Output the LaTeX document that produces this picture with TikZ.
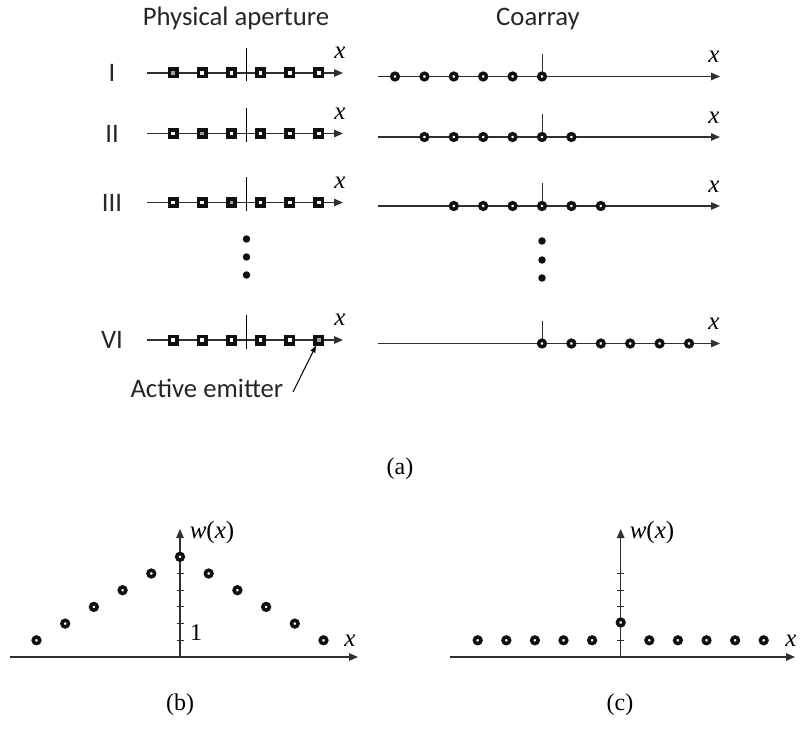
\documentclass[tikz,border=0pt]{standalone}
\usepackage{fontspec}
\setmainfont{Liberation Serif}[ItalicFont={Liberation Serif Italic}]
\setsansfont{Carlito}
\usetikzlibrary{arrows.meta, positioning, calc}

\definecolor{axisgray}{HTML}{303030}
\definecolor{markdark}{HTML}{101010}
\definecolor{activegray}{HTML}{A0A0A0}

\begin{document}
\begin{tikzpicture}[x=1pt, y=-1pt,
    axis/.style={draw=axisgray, line width=1.3pt, -{Triangle[length=9pt, width=7.5pt]}},
    tick/.style={draw=axisgray, line width=1pt},
    elem/.style={rectangle, draw=markdark, fill=white, line width=3.6pt, minimum size=7.4pt, inner sep=0pt},
    lag/.style={circle, draw=markdark, fill=white, line width=3.5pt, minimum size=6.6pt, inner sep=0pt},
    wdot/.style={circle, fill=markdark, minimum size=7.5pt, inner sep=0pt},
    lbl/.style={font=\sffamily\fontsize{26.7}{30}\selectfont, text=black!85},
    var/.style={font=\fontsize{25}{28}\selectfont},
    subcap/.style={font=\fontsize{24}{28}\selectfont}]

    \useasboundingbox (0,0) rectangle (800,735);

    % headers
    \node[lbl, anchor=base] (hphys) at (236,26) {Physical aperture};
    \node[lbl, anchor=base] (hco) at (538,26) {Coarray};

    % rows: number / label / y / active element / first lag
    \foreach \r/\lab/\y/\act/\lo in {1/I/73/1/-5, 2/II/133.5/2/-4, 3/III/202.5/3/-3, 6/VI/340/6/0} {
        \node[lbl] (lab\r) at (112,\y) {\lab};
        % physical aperture
        \coordinate (pa\r) at (147,\y);
        \coordinate (pb\r) at (343,\y);
        \draw[axis] (pa\r) -- (pb\r);
        \draw[tick, draw=black] (246.5,\y-25) -- (246.5,\y+8.5);
        \node[var] (px\r) at (340,\y-20) {\textit{x}};
        \foreach \k in {1,...,6} {
            \ifnum\k=\act \def\fc{activegray}\else\def\fc{white}\fi
            \node[elem, fill=\fc] (s\r-\k) at ({246+29.1*(\k-3.5)},\y) {};
        }
        % coarray
        \coordinate (ca\r) at (378,\y+3.5);
        \coordinate (cb\r) at (720,\y+3.5);
        \draw[axis] (ca\r) -- (cb\r);
        \draw[tick] (542,\y-19) -- (542,\y+3.5);
        \node[var] (cx\r) at (714,\y-16) {\textit{x}};
        \foreach \m in {0,...,5}
            \node[lag] (l\r-\m) at ({542+29.4*(\lo+\m)},\y+3.5) {};
    }

    % skipped rows
    \foreach \j/\yy in {1/239, 2/257, 3/275}
        \node[wdot] (pd\j) at (246.5,\yy) {};
    \foreach \j/\yy in {1/241, 2/260, 3/278}
        \node[wdot] (cd\j) at (542,\yy) {};

    % pointer to the active element
    \node[lbl, anchor=base west] (emit) at (127,397) {Active emitter};
    \coordinate (emittail) at (293,392);
    \draw[line width=1pt, -{Triangle[length=7pt, width=5pt]}] (emittail) -- (s6-6);

    \node[subcap] (capa) at (400,469) {(a)};

    % (b) weight function
    \coordinate (bx0) at (10,657);
    \coordinate (bx1) at (358,657);
    \coordinate (by0) at (180,657);
    \coordinate (by1) at (180,529);
    \draw[axis] (bx0) -- (bx1);
    \draw[axis] (by0) -- (by1);
    \foreach \j in {1,...,5}
        \draw[tick] (176.5,{657-16.7*\j}) -- (183.5,{657-16.7*\j});
    \foreach \k in {-5,...,5}
        \node[lag] (bb\k) at ({180+28.7*\k},{657-16.7*(6-abs(\k))}) {};
    \node[var] (bw) at (212,532) {\textit{w}(\textit{x})};
    \node[var] (bxl) at (350,641) {\textit{x}};
    \node[subcap] (bone) at (196,633) {1};
    \node[subcap] (capb) at (180,705) {(b)};

    % (c) weight function
    \coordinate (cx0) at (450,657);
    \coordinate (cx1) at (795,657);
    \coordinate (cy0) at (620.7,657);
    \coordinate (cy1) at (620.7,529);
    \draw[axis] (cx0) -- (cx1);
    \draw[axis] (cy0) -- (cy1);
    \foreach \j in {1,...,5}
        \draw[tick] (617.2,{657-16.7*\j}) -- (624.2,{657-16.7*\j});
    \foreach \k in {-5,...,-1,1,2,3,4,5}
        \node[lag] (cc\k) at ({620.7+28.6*\k},640.3) {};
    \node[lag] (cc0) at (620.7,622.5) {};
    \node[var] (cw) at (652,532) {\textit{w}(\textit{x})};
    \node[var] (cxl) at (791,641) {\textit{x}};
    \node[subcap] (capc) at (620,705) {(c)};
\end{tikzpicture}
\end{document}
